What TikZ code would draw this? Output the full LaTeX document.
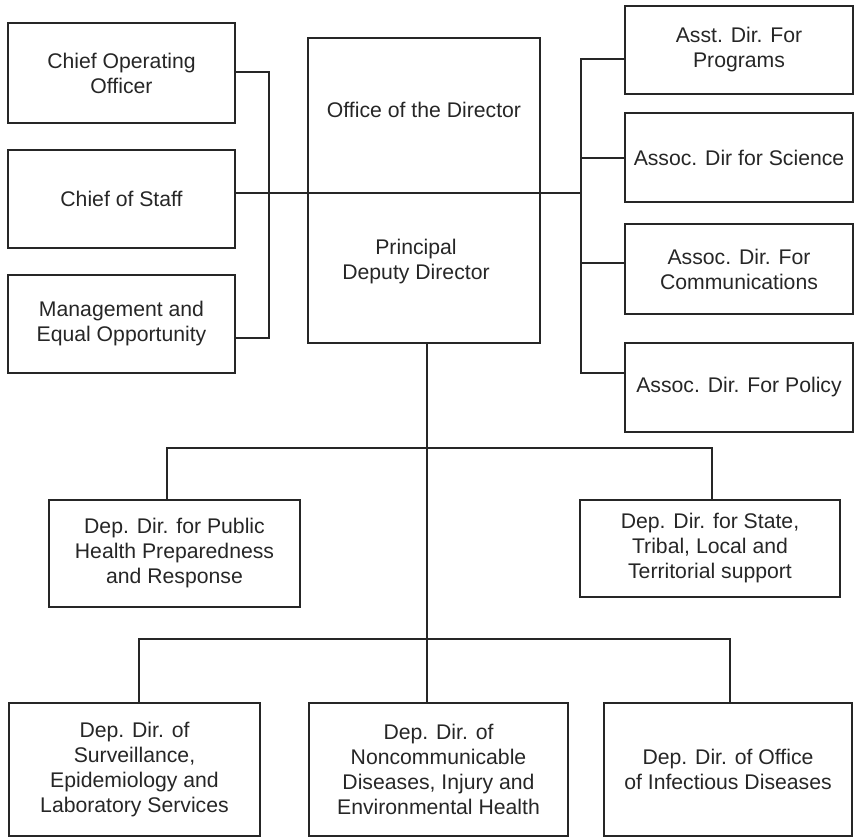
\documentclass[tikz,border=0pt]{standalone}
\usepackage{fontspec}
\setmainfont{Liberation Sans}
\definecolor{ink}{HTML}{262626}
\begin{document}
\begin{tikzpicture}[x=1pt,y=-1pt,
  box/.style={draw=ink,line width=1.8pt,inner sep=0pt,align=center,text=ink,
    font=\fontsize{21.2}{25}\selectfont},
  txt/.style={inner sep=0pt,align=center,text=ink,font=\fontsize{21.2}{25}\selectfont},
  conn/.style={draw=ink,line width=1.4pt}]
\useasboundingbox (0,0) rectangle (857,838);
% left column
\node[box,minimum width=227pt,minimum height=100pt] (coo) at (121.5,73) {Chief Operating\\Officer};
\node[box,minimum width=227pt,minimum height=98pt] (cos) at (121.5,199) {Chief of Staff};
\node[box,minimum width=227pt,minimum height=98pt] (meo) at (121.5,324) {Management and\\Equal Opportunity};
% central box
\node[box,minimum width=232pt,minimum height=305pt] (od) at (424,190.5) {};
\node[txt] (odt) at (424,110) {Office of the Director};
\node[txt] (pdd) at (416,262) {Principal\\Deputy Director};
% right column
\node[box,minimum width=228pt,minimum height=88pt] (prog) at (739,50) {Asst. Dir. For\\Programs};
\node[box,minimum width=228pt,minimum height=89pt] (sci) at (739,157.5) {Assoc. Dir for Science};
\node[box,minimum width=228pt,minimum height=90pt] (comm) at (739,269) {Assoc. Dir. For\\Communications};
\node[box,minimum width=228pt,minimum height=89pt] (pol) at (739,387.5) {Assoc. Dir. For Policy};
% middle row
\node[box,minimum width=251pt,minimum height=107pt] (ph) at (174.5,553.5) {Dep. Dir. for Public\\Health Preparedness\\and Response};
\node[box,minimum width=260pt,minimum height=97pt] (st) at (710,548.5) {Dep. Dir. for State,\\Tribal, Local and\\Territorial support};
% bottom row
\node[box,minimum width=251pt,minimum height=133pt] (surv) at (134.5,769.5) {Dep. Dir. of\\Surveillance,\\Epidemiology and\\Laboratory Services};
\node[box,minimum width=259pt,minimum height=133pt] (ncd) at (438.5,769.5) {Dep. Dir. of\\Noncommunicable\\Diseases, Injury and\\Environmental Health};
\node[box,minimum width=248pt,minimum height=133pt] (inf) at (728,769.5) {Dep. Dir. of Office\\of Infectious Diseases};
% connectors: left bracket
\coordinate (lb1) at (269,72);
\coordinate (lb2) at (269,338);
\draw[conn] (coo.east |- lb1) -- (lb1) -- (lb2) -- (meo.east |- lb2);
\coordinate (rbm) at (581,193);
\draw[conn] (cos.east |- rbm) -- (rbm);
% right bracket
\coordinate (rb1) at (581,59);
\coordinate (rb2) at (581,158);
\coordinate (rb3) at (581,263);
\coordinate (rb4) at (581,373);
\draw[conn] (prog.west |- rb1) -- (rb1) -- (rb4) -- (pol.west |- rb4);
\draw[conn] (rb2) -- (sci.west |- rb2);
\draw[conn] (rb3) -- (comm.west |- rb3);
% central trunk
\coordinate (trunk) at (427,448);
\draw[conn] (od.south -| trunk) -- (ncd.north -| trunk);
% middle branch
\coordinate (m1) at (167,448);
\coordinate (m2) at (712,448);
\draw[conn] (ph.north -| m1) -- (m1) -- (m2) -- (st.north -| m2);
% bottom branch
\coordinate (b1) at (139,639);
\coordinate (b2) at (730,639);
\draw[conn] (surv.north -| b1) -- (b1) -- (b2) -- (inf.north -| b2);
\end{tikzpicture}
\end{document}
